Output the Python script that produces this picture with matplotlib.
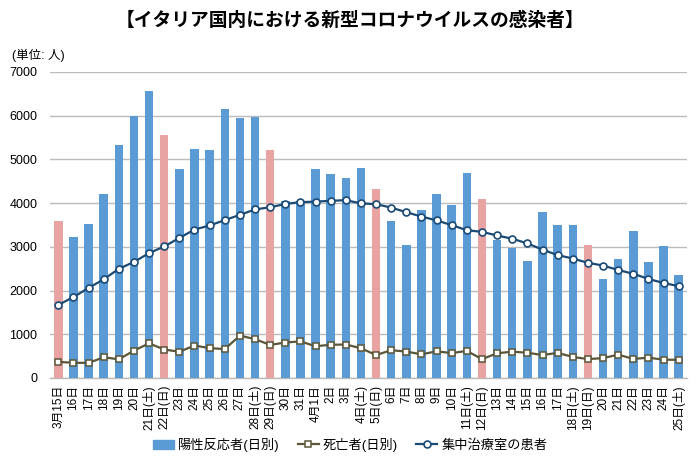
import matplotlib
matplotlib.use("Agg")
import matplotlib.pyplot as plt
from matplotlib.patches import Patch
import numpy as np

plt.rcParams['font.family'] = ['Liberation Sans', 'Noto Sans CJK JP', 'DejaVu Sans']

dates = ["3月15日", "16日", "17日", "18日", "19日", "20日", "21日(土)", "22日(日)",
         "23日", "24日", "25日", "26日", "27日", "28日(土)", "29日(日)", "30日", "31日",
         "4月1日", "2日", "3日", "4日(土)", "5日(日)", "6日", "7日", "8日", "9日", "10日",
         "11日(土)", "12日(日)", "13日", "14日", "15日", "16日", "17日", "18日(土)",
         "19日(日)", "20日", "21日", "22日", "23日", "24日", "25日(土)"]

positives = [3590, 3233, 3526, 4207, 5322, 5986, 6557, 5560, 4789, 5249, 5210, 6153,
             5959, 5974, 5217, 4050, 4053, 4782, 4668, 4585, 4805, 4316, 3599, 3039,
             3836, 4204, 3951, 4694, 4092, 3153, 2972, 2667, 3786, 3493, 3491, 3047,
             2256, 2729, 3370, 2646, 3021, 2357]

deaths = [368, 349, 345, 475, 427, 627, 793, 651, 601, 743, 683, 662, 969, 889, 756,
          812, 837, 727, 760, 766, 681, 525, 636, 604, 542, 610, 570, 619, 431, 566,
          602, 578, 525, 575, 482, 433, 454, 534, 437, 464, 420, 415]

icu = [1672, 1851, 2060, 2257, 2498, 2655, 2857, 3009, 3204, 3396, 3489, 3612, 3732,
       3856, 3906, 3981, 4023, 4035, 4053, 4068, 3994, 3977, 3898, 3792, 3693, 3605,
       3497, 3381, 3343, 3260, 3186, 3079, 2936, 2812, 2733, 2635, 2573, 2471, 2384,
       2267, 2173, 2102]

sundays = ["3月15日", "22日(日)", "29日(日)", "5日(日)", "12日(日)", "19日(日)"]

BLUE = "#5B9BD5"
PINK = "#E9A3A3"
DEATH_C = "#5B5638"
ICU_C = "#1B4A75"

fig = plt.figure(figsize=(7.0, 4.7), dpi=100)
ax = fig.add_axes([50/700, 1-378/470, (687-50)/700, (378-72)/470])

x = np.arange(len(dates))
colors = [PINK if d in sundays else BLUE for d in dates]
ax.bar(x, positives, width=0.56, color=colors, zorder=2)
l1, = ax.plot(x, deaths, color=DEATH_C, lw=1.6, marker="s", ms=4.8, mfc="white",
              mec=DEATH_C, mew=1.1, zorder=3)
l2, = ax.plot(x, icu, color=ICU_C, lw=1.6, marker="o", ms=5, mfc="white",
              mec=ICU_C, mew=1.2, zorder=4)

ax.set_ylim(0, 7000)
ax.set_yticks(range(0, 7001, 1000))
ax.set_xlim(-0.55, 41.55)
ax.set_xticks(x)
ax.set_xticklabels(dates, rotation=90, fontsize=8.5, va="top")
ax.tick_params(axis="y", labelsize=9, length=0, pad=9)
ax.tick_params(axis="x", length=0, pad=5)
ax.grid(axis="y", color="#BBBBBB", lw=1, zorder=0)
for s in ["top", "right", "left"]:
    ax.spines[s].set_visible(False)
ax.spines["bottom"].set_color("#BBBBBB")
ax.spines["bottom"].set_linewidth(1)
ax.spines["bottom"].set_zorder(1)

fig.text(0.5, 1-20/470, "【イタリア国内における新型コロナウイルスの感染者】",
         ha="center", va="center", fontsize=13.5, fontweight="bold",
         family=['Noto Sans CJK JP', 'DejaVu Sans'])
fig.text(12/700, 1-55/470, "(単位: 人)", ha="left", va="center", fontsize=9)

handles = [Patch(color=BLUE), l1, l2]
labels = ["陽性反応者(日別)", "死亡者(日別)", "集中治療室の患者"]
fig.legend(handles, labels, loc="center", bbox_to_anchor=(0.5, 1-445/470), ncol=3,
           frameon=False, fontsize=9.5, handlelength=1.6, columnspacing=1.4,
           handletextpad=0.3)

fig.savefig("out.png", dpi=100)
